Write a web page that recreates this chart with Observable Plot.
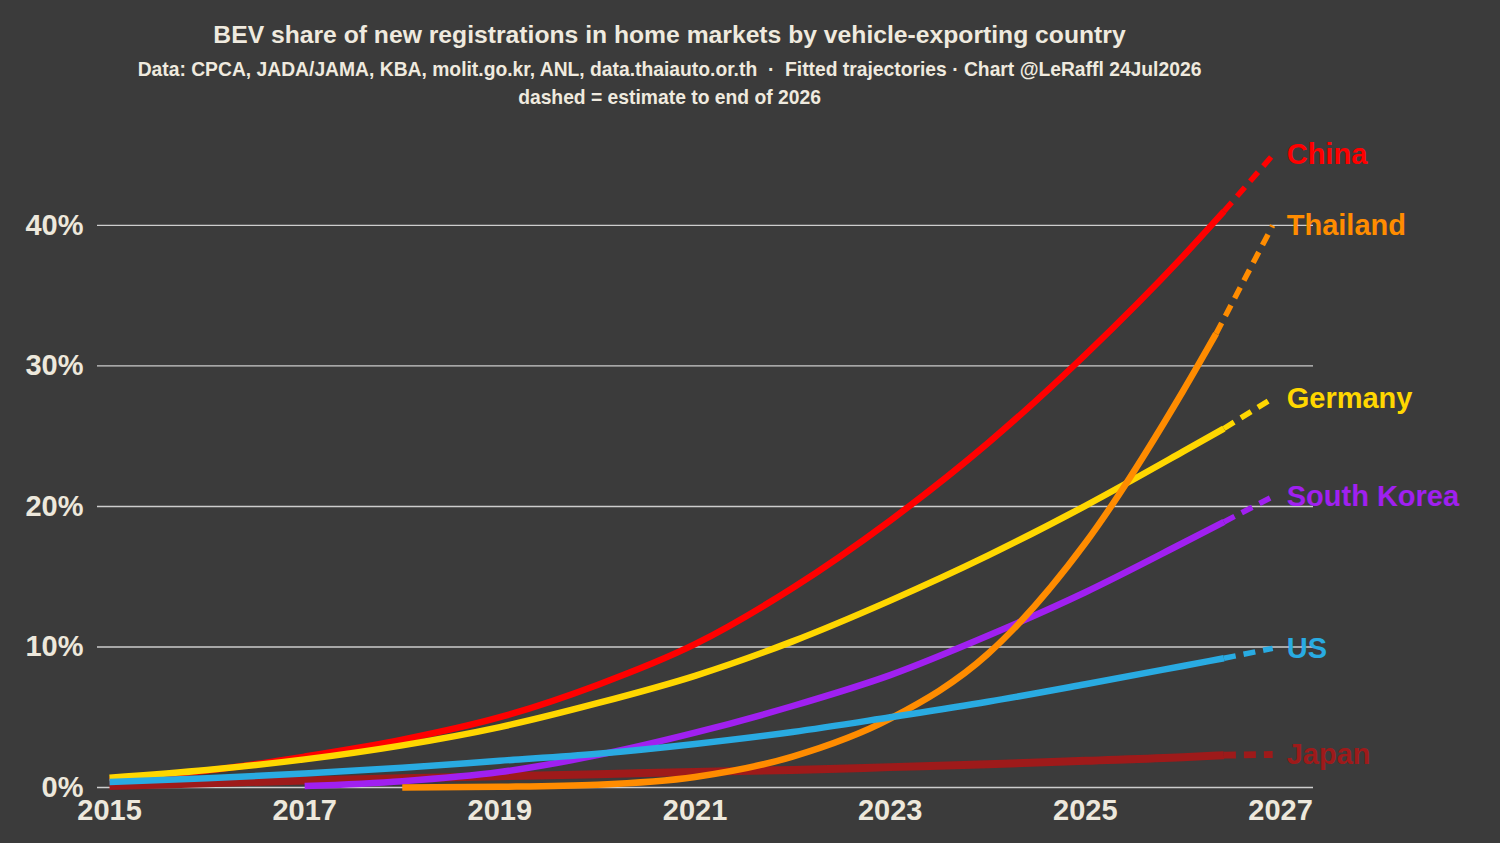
<!DOCTYPE html>
<html><head><meta charset="utf-8">
<script src="https://cdn.jsdelivr.net/npm/d3@7"></script>
<script src="https://cdn.jsdelivr.net/npm/@observablehq/plot@0.6"></script>
<style>
html,body{margin:0;padding:0;background:#3b3b3b;width:1500px;height:843px;overflow:hidden;font-family:"Liberation Sans",Arial,sans-serif;}
#header{position:relative;width:1500px;height:120px;}
.h{position:absolute;left:0;width:1339px;text-align:center;color:#efeadf;font-weight:bold;white-space:nowrap;}
#title{top:22.6px;font-size:24.7px;line-height:24.7px;}
#sub{top:60.2px;font-size:19.3px;line-height:19.3px;}
#note{top:88.2px;font-size:19.3px;line-height:19.3px;}
#chart{position:absolute;left:0;top:120px;}
</style>
</head><body>
<div id="header">
<div class="h" id="title">BEV share of new registrations in home markets by vehicle-exporting country</div>
<div class="h" id="sub">Data: CPCA, JADA/JAMA, KBA, molit.go.kr, ANL, data.thaiauto.or.th &nbsp;·&nbsp; Fitted trajectories · Chart @LeRaffl 24Jul2026</div>
<div class="h" id="note">dashed = estimate to end of 2026</div>
</div>
<div id="chart"></div>
<script>
// Categories and styling per series (alphabetical = drawing order)
const countries = ["China", "Germany", "Japan", "South Korea", "Thailand", "US"];
const colors = ["#ff0000", "#ffd700", "#9e1a1a", "#a020f0", "#ff8c00", "#29abe2"];

// Years of the fitted trajectories per series (last point = latest data in 2026)
const yearsChina      = [2015, 2016, 2017, 2018, 2019, 2020, 2021, 2022, 2023, 2024, 2025, 2026, 2026.42];
const yearsGermany    = [2015, 2016, 2017, 2018, 2019, 2020, 2021, 2022, 2023, 2024, 2025, 2026, 2026.42];
const yearsJapan      = [2015, 2016, 2017, 2018, 2019, 2020, 2021, 2022, 2023, 2024, 2025, 2026, 2026.42];
const yearsSouthKorea = [2017, 2018, 2019, 2020, 2021, 2022, 2023, 2024, 2025, 2026, 2026.42];
const yearsThailand   = [2018, 2019, 2020, 2021, 2022, 2023, 2024, 2025, 2026, 2026.34];
const yearsUS         = [2015, 2016, 2017, 2018, 2019, 2020, 2021, 2022, 2023, 2024, 2025, 2026, 2026.42];

// BEV share (%)
const china      = [0.5, 1.2, 2.2, 3.4, 5.0, 7.3, 10.2, 14.2, 19.0, 24.5, 30.8, 37.8, 41.0];
const germany    = [0.7, 1.25, 2.0, 3.0, 4.3, 6.0, 7.95, 10.4, 13.3, 16.5, 20.05, 23.9, 25.55];
const japan      = [0.1, 0.3, 0.5, 0.65, 0.8, 0.95, 1.1, 1.25, 1.45, 1.65, 1.9, 2.15, 2.3];
const southKorea = [0.1, 0.45, 1.1, 2.3, 3.9, 5.8, 8.0, 10.8, 13.9, 17.4, 18.9];
const thailand   = [0.0, 0.05, 0.2, 0.75, 2.2, 4.9, 9.5, 17.4, 28.2, 32.3];
const us         = [0.4, 0.65, 1.0, 1.4, 1.9, 2.4, 3.1, 3.95, 5.0, 6.1, 7.35, 8.65, 9.2];

// Estimate to end of 2026 (dashed)
const estimateYear = 2026.92;
const estimates = [45.0, 27.7, 2.35, 20.7, 40.0, 9.9];

// Axis ticks
const xTicks = [2015, 2017, 2019, 2021, 2023, 2025, 2027];
const yTicks = [0, 10, 20, 30, 40];

const seriesYears = [yearsChina, yearsGermany, yearsJapan, yearsSouthKorea, yearsThailand, yearsUS];
const seriesValues = [china, germany, japan, southKorea, thailand, us];
const widths = [6.5, 6.5, 8, 6.5, 6.5, 6.5];

const series = countries.map((name, i) => {
  const pts = seriesValues[i].map((v, j) => ({year: seriesYears[i][j], value: v}));
  const last = pts[pts.length - 1];
  const est = [last, {year: estimateYear, value: estimates[i]}];
  return {name, color: colors[i], width: widths[i], pts, est, label: [{year: estimateYear, value: estimates[i], name}]};
});

const marks = [
  Plot.ruleY(yTicks, {stroke: "#cdcdcd", strokeWidth: 1.3})
];
for (const s of series) {
  marks.push(Plot.line(s.pts, {x: "year", y: "value", stroke: s.color, strokeWidth: s.width, curve: "monotone-x", strokeLinecap: "butt"}));
  marks.push(Plot.line(s.est, {x: "year", y: "value", stroke: s.color, strokeWidth: s.width * 0.85, strokeDasharray: "12,8", strokeLinecap: "butt"}));
}
for (const s of series) {
  marks.push(Plot.text(s.label, {x: "year", y: "value", text: "name", fill: s.color, textAnchor: "start", dx: 14, fontSize: 29, fontWeight: "bold"}));
}

const chart = Plot.plot({
  width: 1500,
  height: 723,
  marginLeft: 97,
  marginRight: 187,
  marginTop: 34.7,
  marginBottom: 56,
  style: {background: "#3b3b3b", color: "#ede8dc", fontFamily: "Liberation Sans, Arial, sans-serif", fontSize: "29px", fontWeight: "bold", overflow: "visible"},
  x: {domain: [2014.877, 2027.338], ticks: xTicks, tickFormat: d => String(d), label: null, tickSize: 0, tickPadding: 12},
  y: {domain: [0, 45], ticks: yTicks, tickFormat: d => d + "%", label: null, tickSize: 0, tickPadding: 14},
  marks
});
document.getElementById("chart").appendChild(chart);
</script>
</body></html>
